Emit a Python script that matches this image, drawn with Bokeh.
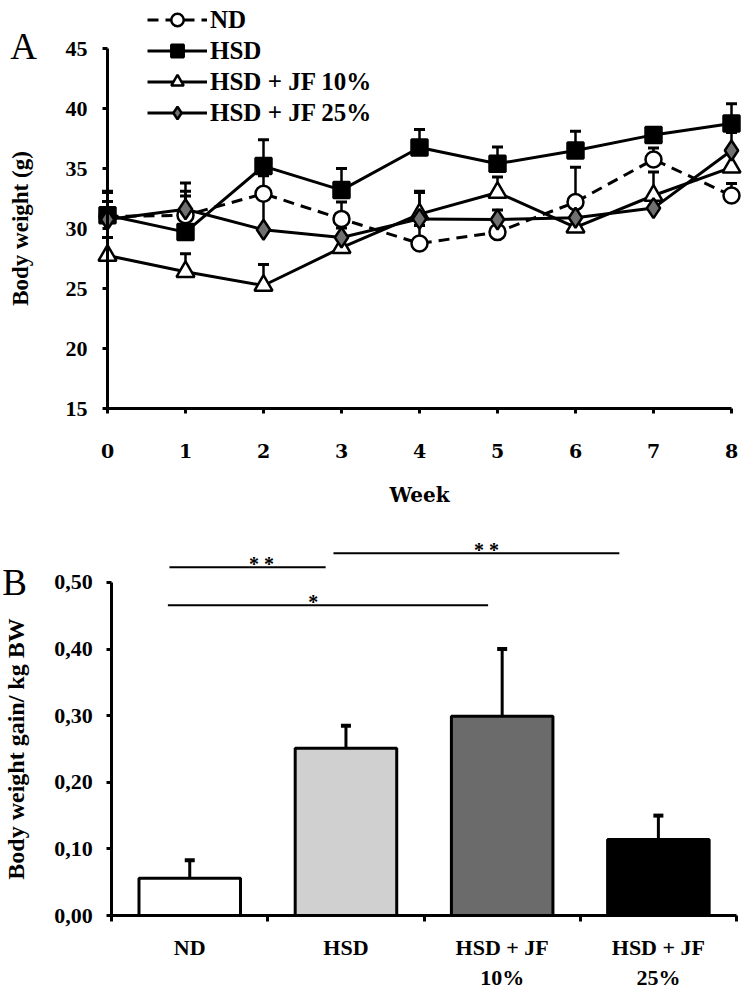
import numpy as np
from bokeh.plotting import figure
from bokeh.models import (Range1d, FixedTicker, Whisker, TeeHead, Legend, LegendItem,
                          Label, ColumnDataSource)
from bokeh.layouts import column
from bokeh.embed import file_html
from bokeh.resources import INLINE
from bokeh.core.properties import value

# ---------------- Panel A data ----------------
weeks = [0, 1, 2, 3, 4, 5, 6, 7, 8]
nd = [31.0, 31.1, 32.9, 30.8, 28.75, 29.7, 32.2, 35.75, 32.75]
nd_err = [2.0, 2.0, 1.5, 1.4, 1.5, 1.2, 2.9, 0.95, 1.0]
hsd = [31.1, 29.7, 35.2, 33.2, 36.75, 35.4, 36.5, 37.8, 38.75]
hsd_err = [2.0, 3.0, 2.2, 1.8, 1.5, 1.4, 1.6, 0.6, 1.65]
jf10 = [27.75, 26.4, 25.25, 28.4, 31.2, 33.0, 30.1, 32.75, 35.1]
jf10_err = [1.5, 1.5, 1.75, 0.8, 1.9, 1.3, 0.8, 1.95, 1.2]
jf25 = [30.75, 31.6, 29.9, 29.25, 30.8, 30.75, 30.9, 31.7, 36.5]
jf25_err = [1.5, 2.2, 3.3, 0.8, 2.2, 0.8, 0.8, 1.2, 1.5]
a_yticks = [15, 20, 25, 30, 35, 40, 45]
series_names = ["ND", "HSD", "HSD + JF 10%", "HSD + JF 25%"]

# ---------------- Panel B data ----------------
groups = ["ND", "HSD", "HSD + JF\n10%", "HSD + JF\n25%"]
gain = [0.056, 0.251, 0.299, 0.114]
gain_err = [0.027, 0.034, 0.101, 0.036]
bar_colors = ["#ffffff", "#d0d0d0", "#6b6b6b", "#000000"]
b_yticks = [0.0, 0.1, 0.2, 0.3, 0.4, 0.5]
b_ylabels = ["0,00", "0,10", "0,20", "0,30", "0,40", "0,50"]
sig_x0 = [0.37, 1.42, 0.36]
sig_x1 = [1.37, 3.25, 2.41]
sig_y = [0.523, 0.544, 0.466]
sig_text_x = [0.96, 2.40, 1.29]
sig_text = ["* *", "* *", "*"]

SERIF = "Liberation Serif"
WIDE = "DejaVu Serif"

# ================= Panel A =================
pA = figure(width=743, height=510, output_backend="svg", toolbar_location=None,
            x_range=Range1d(-1.3718, 8.1538), y_range=Range1d(6.5, 49),
            min_border=0, background_fill_color="white",
            border_fill_color="white")
pA.outline_line_color = None
pA.grid.visible = False

pA.yaxis.fixed_location = 0
pA.yaxis.bounds = (15, 45)
pA.yaxis.ticker = FixedTicker(ticks=a_yticks)
pA.xaxis.fixed_location = 15
pA.xaxis.bounds = (0, 8)
pA.xaxis.ticker = FixedTicker(ticks=weeks)
for ax in (pA.xaxis[0], pA.yaxis[0]):
    ax.axis_line_width = 3
    ax.axis_line_color = "black"
    ax.major_tick_line_width = 3
    ax.major_tick_line_color = "black"
    ax.major_tick_in = 0
    ax.major_tick_out = 5
    ax.minor_tick_line_color = None
    ax.major_label_text_color = "black"
    ax.axis_label_text_color = "black"
    ax.axis_label_text_font_style = "bold"
pA.yaxis.major_label_text_font = SERIF
pA.yaxis.major_label_text_font_style = "bold"
pA.yaxis.major_label_text_font_size = "22px"
pA.yaxis.major_label_standoff = 15
pA.yaxis.axis_label = "Body weight (g)"
pA.yaxis.axis_label_text_font = SERIF
pA.yaxis.axis_label_text_font_size = "23px"
pA.yaxis.axis_label_standoff = 30
pA.xaxis.major_label_text_font = WIDE
pA.xaxis.major_label_text_font_style = "bold"
pA.xaxis.major_label_text_font_size = "19px"
pA.xaxis.major_label_standoff = 30
pA.xaxis.axis_label = "Week"
pA.xaxis.axis_label_text_font = WIDE
pA.xaxis.axis_label_text_font_size = "20px"
pA.xaxis.axis_label_standoff = 22

styles = [
    dict(marker="circle", size=16, fill="white", dash="11 7"),
    dict(marker="square", size=16, fill="black", dash="solid"),
    dict(marker="triangle", size=18, fill="white", dash="solid"),
    dict(marker="diamond", size=20, fill="#707070", dash="solid"),
]
items = []
for name, vals, errs, st in zip(series_names, [nd, hsd, jf10, jf25],
                                [nd_err, hsd_err, jf10_err, jf25_err], styles):
    src = ColumnDataSource(dict(x=weeks, y=vals,
                                upper=[v + e for v, e in zip(vals, errs)]))
    w = Whisker(base="x", lower="y", upper="upper", source=src,
                line_width=2.5, line_color="black", level="underlay",
                upper_head=TeeHead(size=11, line_width=3, line_color="black"),
                lower_head=None)
    pA.add_layout(w)
    lr = pA.line("x", "y", source=src, line_width=3, line_color="black",
                 line_dash=st["dash"])
    sr = pA.scatter("x", "y", source=src, marker=st["marker"], size=st["size"],
                    fill_color=st["fill"], line_color="black", line_width=2.5)
    items.append(LegendItem(label=name, renderers=[lr, sr]))

legend = Legend(items=items, location=(147, 382), border_line_color=None,
                background_fill_alpha=0, label_text_font=SERIF,
                label_text_font_style="bold", label_text_font_size="25px",
                label_text_color="black", glyph_width=60, glyph_height=31,
                label_height=28, spacing=0, padding=0, margin=0,
                label_standoff=3)
pA.add_layout(legend)

pA.add_layout(Label(x=-1.077, y=45.17, text="A", text_font=SERIF,
                    text_font_size="37px", text_align="center",
                    text_baseline="middle", text_color="black"))

# ================= Panel B =================
pB = figure(width=743, height=480, output_backend="svg", toolbar_location=None,
            x_range=Range1d(-0.7115, 4.0449), y_range=Range1d(-0.1126, 0.6081),
            min_border=0, background_fill_color="white",
            border_fill_color="white")
pB.outline_line_color = None
pB.grid.visible = False

xpos = [i + 0.5 for i in range(len(groups))]
bsrc = ColumnDataSource(dict(x=xpos, top=gain, color=bar_colors,
                             upper=[g + e for g, e in zip(gain, gain_err)]))
pB.add_layout(Whisker(base="x", lower="top", upper="upper", source=bsrc,
                      line_width=3, line_color="black", level="underlay",
                      upper_head=TeeHead(size=10, line_width=4, line_color="black"),
                      lower_head=None))
pB.vbar(x="x", top="top", width=0.65, source=bsrc, fill_color="color",
        line_color="black", line_width=3)

pB.segment(x0=sig_x0, y0=sig_y, x1=sig_x1, y1=sig_y, line_width=2,
           line_color="black")
pB.text(x=sig_text_x, y=sig_y, text=sig_text, text_font=value(SERIF),
        text_font_style="bold", text_font_size="20px", text_align="center",
        text_baseline="alphabetic", y_offset=-3, text_color="black")

pB.xaxis.fixed_location = 0
pB.xaxis.bounds = (0, 4)
pB.xaxis.ticker = FixedTicker(ticks=xpos, minor_ticks=[0, 1, 2, 3, 4])
pB.xaxis.major_label_overrides = {x: g for x, g in zip(xpos, groups)}
pB.xaxis.major_tick_line_color = None
pB.xaxis.minor_tick_in = 0
pB.xaxis.minor_tick_out = 6
pB.xaxis.minor_tick_line_width = 3
pB.xaxis.minor_tick_line_color = "black"
pB.xaxis.major_label_standoff = 13
pB.xaxis.major_label_text_font = SERIF
pB.xaxis.major_label_text_font_style = "bold"
pB.xaxis.major_label_text_font_size = "22px"
pB.xaxis.major_label_text_color = "black"
pB.xaxis.axis_line_width = 3
pB.xaxis.axis_line_color = "black"

pB.yaxis.fixed_location = 0
pB.yaxis.bounds = (0, 0.5)
pB.yaxis.ticker = FixedTicker(ticks=b_yticks)
pB.yaxis.major_label_overrides = {t: l for t, l in zip(b_yticks, b_ylabels)}
pB.yaxis.axis_line_width = 3
pB.yaxis.axis_line_color = "black"
pB.yaxis.major_tick_line_width = 3
pB.yaxis.major_tick_line_color = "black"
pB.yaxis.major_tick_in = 0
pB.yaxis.major_tick_out = 5
pB.yaxis.minor_tick_line_color = None
pB.yaxis.major_label_standoff = 14
pB.yaxis.major_label_text_font = SERIF
pB.yaxis.major_label_text_font_style = "bold"
pB.yaxis.major_label_text_font_size = "22px"
pB.yaxis.major_label_text_color = "black"
pB.yaxis.axis_label = "Body weight gain/ kg BW"
pB.yaxis.axis_label_text_font = SERIF
pB.yaxis.axis_label_text_font_style = "bold"
pB.yaxis.axis_label_text_font_size = "24px"
pB.yaxis.axis_label_text_color = "black"
pB.yaxis.axis_label_standoff = 22

pB.add_layout(Label(x=-0.622, y=0.5, text="B", text_font=SERIF,
                    text_font_size="37px", text_align="center",
                    text_baseline="middle", text_color="black"))

layout = column(pA, pB, spacing=0)
open("out.html", "w").write(file_html(layout, INLINE))
